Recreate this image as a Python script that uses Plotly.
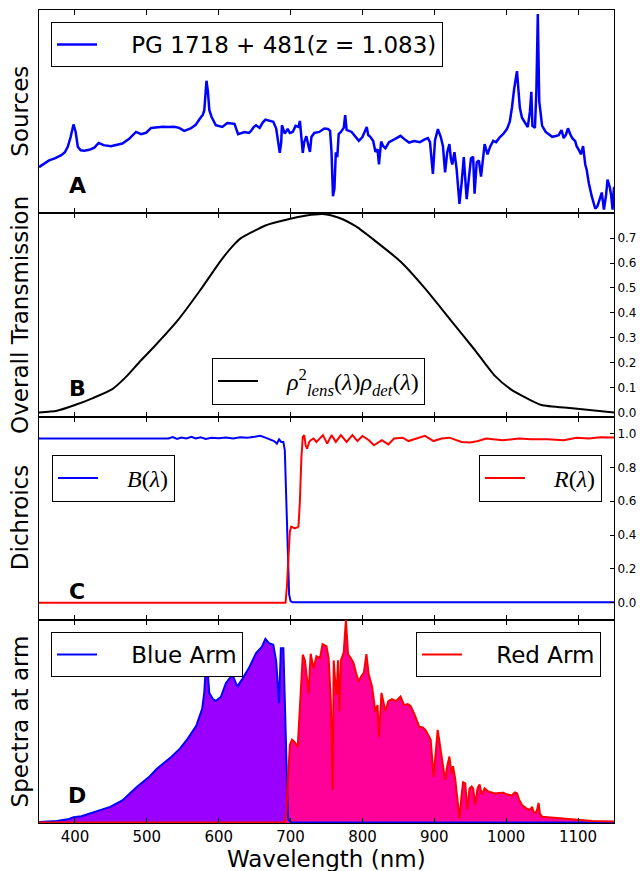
import plotly.graph_objects as go
from plotly.subplots import make_subplots

# ---------------- data ----------------
# Panel A: source spectrum (arbitrary flux units, 0-100)
src_wl = [350, 357, 364, 372, 381, 386, 390, 394, 398, 401, 404, 408, 413, 420, 427, 433, 440, 450, 458, 466,
          475, 485, 492, 499, 506, 514, 522, 530, 538, 545, 552, 561, 568, 573, 578, 580, 582, 583, 585, 587,
          590, 596, 605, 612, 618, 622, 627, 636, 642, 645, 649, 652, 657, 661, 665, 670, 676, 680, 683, 685,
          687, 688, 692, 696, 699, 703, 707, 711, 713, 715, 717, 719, 722, 725, 727, 729, 733, 740, 747, 752,
          755, 757, 759, 761, 763, 765, 767, 770, 774, 776, 778, 785, 790, 795, 800, 806, 808, 811, 815, 818,
          821, 823, 826, 829, 832, 837, 845, 853, 860, 865, 872, 880, 886, 891, 894, 898, 901, 905, 909, 912,
          915, 918, 921, 923, 925, 928, 931, 935, 938, 941, 945, 948, 951, 954, 956, 959, 962, 965, 968, 970,
          974, 978, 982, 986, 991, 996, 1001, 1005, 1008, 1011, 1015, 1017, 1019, 1022, 1026, 1030, 1033, 1035, 1036.5, 1040,
          1042, 1044, 1046, 1050, 1055, 1060, 1064, 1069, 1073, 1077, 1080, 1083, 1086, 1089, 1092, 1096, 1098, 1101, 1104, 1107,
          1110, 1112, 1115, 1119, 1122, 1124, 1127, 1130, 1133, 1136, 1139, 1141, 1144, 1146, 1148, 1150]
src_flux = [22.7, 24.5, 26.0, 27.0, 28.6, 30.0, 32.7, 37.5, 43.7, 40.0, 32.7, 31.0, 30.7, 31.2, 32.3, 34.6, 33.5, 33.0, 33.5, 34.3,
            36.5, 40.0, 38.9, 39.6, 42.0, 42.3, 42.5, 42.4, 42.6, 42.0, 40.5, 41.7, 43.5, 46.1, 48.5, 50.7, 60.0, 65.2, 60.0, 50.7,
            47.5, 43.3, 42.5, 44.4, 44.2, 44.0, 38.9, 40.0, 39.5, 40.5, 42.5, 43.3, 42.0, 44.5, 46.1, 45.5, 45.0, 41.7, 35.0, 29.7,
            35.0, 43.3, 39.2, 41.5, 39.5, 40.0, 43.0, 42.5, 45.4, 38.0, 29.7, 35.0, 37.9, 33.0, 30.2, 37.5, 39.5, 40.0, 41.7, 41.5,
            40.5, 30.0, 8.4, 12.0, 30.0, 27.6, 39.0, 40.0, 42.0, 48.3, 41.0, 40.0, 38.0, 35.6, 37.5, 42.5, 38.5, 37.6, 35.5, 30.2,
            31.5, 24.0, 35.3, 33.0, 32.0, 35.0, 36.5, 38.1, 36.0, 34.8, 35.5, 35.0, 36.2, 37.0, 35.0, 19.4, 36.0, 41.4, 37.5, 33.0,
            20.1, 30.0, 34.0, 27.0, 24.0, 30.0, 22.0, 4.6, 15.0, 27.6, 6.9, 19.0, 27.0, 27.8, 9.6, 25.0, 26.0, 18.0, 30.0, 34.0,
            29.0, 33.0, 35.6, 35.0, 37.4, 39.0, 41.4, 45.0, 51.9, 61.0, 69.9, 60.0, 51.9, 47.0, 44.5, 42.4, 50.0, 59.7, 43.0, 42.0,
            60.0, 98.0, 55.0, 43.0, 40.0, 38.5, 37.6, 38.0, 38.4, 40.9, 37.0, 38.5, 41.8, 39.0, 36.9, 35.5, 33.0, 31.2, 29.0, 33.0,
            24.0, 21.4, 14.8, 8.4, 4.0, 2.2, 3.5, 7.0, 10.2, 1.8, 9.0, 16.6, 13.0, 9.0, 1.8, 13.0]

# Panel B: overall transmission
trans_wl = [350, 375, 400, 425, 452, 470, 489, 512, 543, 574, 603, 620, 631, 648, 665, 694, 722, 745, 768, 791,
            819, 853, 887, 921, 955, 984, 1006, 1029, 1049, 1092, 1150]
trans_val = [0.000, 0.007, 0.030, 0.058, 0.094, 0.140, 0.200, 0.270, 0.370, 0.490, 0.610, 0.670, 0.700, 0.727, 0.751,
             0.774, 0.791, 0.797, 0.781, 0.747, 0.686, 0.606, 0.498, 0.377, 0.256, 0.148, 0.094, 0.057, 0.030, 0.017, 0.000]

# Panel C: dichroics
blue_dich_wl = [350, 530, 536, 542, 548, 555, 562, 568, 575, 582, 590, 600, 610, 620, 630, 640, 650, 658, 665, 672,
                677, 681, 684, 687, 690, 692, 694, 696, 698, 700, 703, 1150]
blue_dich = [0.97, 0.97, 0.978, 0.968, 0.976, 0.97, 0.98, 0.97, 0.977, 0.968, 0.975, 0.972, 0.976, 0.97, 0.978, 0.975,
             0.98, 0.986, 0.975, 0.965, 0.955, 0.94, 0.965, 0.95, 0.95, 0.9, 0.6, 0.25, 0.05, 0.01, 0.003, 0.003]
red_dich_wl = [350, 693, 695, 697, 699, 701, 706, 711, 713, 715, 717, 719, 721, 723, 726, 728, 732, 736, 740, 745,
               751, 757, 763, 770, 778, 786, 793, 800, 809, 816, 827, 836, 844, 856, 864, 876, 887, 899, 910, 921,
               938, 950, 961, 972, 995, 1018, 1035, 1058, 1080, 1098, 1115, 1131, 1150]
red_dich = [0.0, 0.0, 0.1, 0.3, 0.42, 0.45, 0.44, 0.45, 0.6, 0.85, 0.98, 0.99, 0.93, 0.91, 0.95, 0.96, 0.97, 0.95, 0.97, 0.99,
            0.94, 0.99, 0.95, 0.99, 0.95, 0.99, 0.955, 0.985, 0.96, 0.93, 0.96, 0.935, 0.97, 0.975, 0.955, 0.97, 0.986, 0.955, 0.97, 0.975,
            0.95, 0.947, 0.955, 0.97, 0.96, 0.97, 0.965, 0.965, 0.96, 0.975, 0.97, 0.978, 0.976]

# Panel D: spectra at each arm (arbitrary units, 0-100)
blue_arm_wl = [350, 375, 390, 398, 409, 420, 432, 449, 466, 486, 503, 514, 534, 546, 557, 569, 577, 580, 583, 585,
               587, 592, 596, 603, 610, 619, 626, 633, 642, 652, 660, 665, 670, 676, 680, 684, 686.5, 690, 692.5, 695,
               696.5, 700, 710, 1150]
blue_arm = [0.5, 1.0, 1.8, 2.8, 3.3, 4.5, 6.2, 7.9, 11.1, 17.7, 22.6, 26.7, 32.5, 36.6, 41.5, 48.0, 56.2, 64.4, 82.0, 74.0,
            63.9, 61.0, 60.1, 62.0, 68.8, 72.9, 67.1, 71.0, 76.2, 83.6, 86.6, 90.6, 88.5, 87.7, 79.5, 59.0, 86.0, 86.0, 50.0, 20.0,
            2.0, 0.3, 0.2, 0.2]
red_arm_wl = [350, 692, 694, 697, 699, 702, 705, 710, 714, 717, 720, 722, 725, 728, 732, 736, 741, 744.5, 750, 753,
              756, 758.6, 760, 762, 764, 766, 768, 770, 774, 777, 780, 784, 787.7, 791, 794.7, 798, 802, 805.5, 808.8, 813.4,
              818, 821, 823, 826.5, 829, 832, 836, 841, 847, 853, 858, 863, 867, 873, 879, 884, 888, 892, 895, 899,
              902, 904.7, 908, 911, 915, 918, 921, 924, 926, 929, 932, 935, 938, 940, 943, 946, 949, 952, 954, 957,
              960, 963, 966, 970, 975, 980, 984, 990, 996, 1002, 1008, 1012, 1015, 1018, 1022, 1028, 1033.5, 1036, 1038, 1041,
              1043, 1045, 1047, 1050, 1068, 1085, 1101.5, 1120, 1150]
red_arm = [0.3, 0.3, 5.0, 30.0, 38.4, 41.0, 40.0, 37.6, 61.4, 82.8, 80.0, 72.0, 63.9, 83.3, 76.0, 82.0, 81.1, 88.0, 86.9, 81.0,
           60.0, 16.3, 80.0, 70.0, 63.0, 80.0, 55.0, 80.0, 84.0, 100.0, 83.0, 81.0, 78.7, 74.0, 69.6, 72.0, 74.0, 83.1, 73.0, 67.1,
           54.8, 58.0, 42.5, 64.0, 60.0, 55.0, 60.0, 61.0, 60.0, 62.2, 58.0, 58.5, 57.6, 53.0, 47.4, 47.0, 45.6, 43.0, 40.9, 22.8,
           35.0, 45.8, 38.0, 30.0, 21.2, 28.0, 32.7, 24.0, 28.0, 22.0, 12.0, 2.3, 14.0, 20.0, 19.5, 6.7, 17.0, 18.0, 17.0, 9.0,
           17.0, 19.0, 14.0, 17.0, 15.5, 15.0, 14.5, 14.8, 14.9, 14.0, 13.5, 15.0, 14.6, 11.5, 8.9, 7.2, 6.4, 8.0, 5.5, 5.0,
           6.5, 9.9, 4.5, 3.1, 2.6, 2.2, 1.8, 1.0, 0.7]

x_ticks = [400, 500, 600, 700, 800, 900, 1000, 1100]
trans_ticks = [0.0, 0.1, 0.2, 0.3, 0.4, 0.5, 0.6, 0.7]
dich_ticks = [0.0, 0.2, 0.4, 0.6, 0.8, 1.0]

panel_labels = ["Sources", "Overall Transmission", "Dichroics", "Spectra at arm"]
panel_letters = ["A", "B", "C", "D"]

# ---------------- figure ----------------
FONT = "DejaVu Sans"
SERIF = "Liberation Serif"
PAD = "\u00a0" * 4
fig = make_subplots(rows=4, cols=1, shared_xaxes=True, vertical_spacing=0)

fig.add_trace(go.Scatter(x=src_wl, y=src_flux, mode="lines", line=dict(color="#0000ff", width=2.5),
                         name=PAD + "PG 1718 + 481(z = 1.083)", legend="legend"), row=1, col=1)

fig.add_trace(go.Scatter(x=trans_wl, y=trans_val, mode="lines", line=dict(color="black", width=2, shape="spline", smoothing=0.6),
                         name=PAD + "<i>ρ</i><sup>2</sup><sub><i>lens</i></sub>(<i>λ</i>)<i>ρ</i><sub><i>det</i></sub>(<i>λ</i>)",
                         legend="legend2"), row=2, col=1)

fig.add_trace(go.Scatter(x=blue_dich_wl, y=blue_dich, mode="lines", line=dict(color="#0000ff", width=2),
                         name=PAD + "<i>B</i>(<i>λ</i>)", legend="legend3"), row=3, col=1)
fig.add_trace(go.Scatter(x=red_dich_wl, y=red_dich, mode="lines", line=dict(color="#ff0000", width=2),
                         name=PAD + "<i>R</i>(<i>λ</i>)", legend="legend4"), row=3, col=1)

fig.add_trace(go.Scatter(x=blue_arm_wl, y=blue_arm, mode="lines", fill="tozeroy", fillcolor="#9900ff",
                         line=dict(color="#9900ff", width=0), showlegend=False, hoverinfo="skip"), row=4, col=1)
fig.add_trace(go.Scatter(x=red_arm_wl, y=red_arm, mode="lines", fill="tozeroy", fillcolor="#ff0099",
                         line=dict(color="#ff0099", width=0), showlegend=False, hoverinfo="skip"), row=4, col=1)
fig.add_trace(go.Scatter(x=blue_arm_wl, y=blue_arm, mode="lines", line=dict(color="#0000ff", width=2),
                         name=PAD + "Blue Arm", legend="legend5"), row=4, col=1)
fig.add_trace(go.Scatter(x=red_arm_wl, y=red_arm, mode="lines", line=dict(color="#ff0000", width=2),
                         name=PAD + "Red Arm", legend="legend6"), row=4, col=1)

L, R, T, B = 39, 26, 10, 48
W, H = 640, 871
PW, PH = W - L - R, H - T - B


def px_x(px):
    return (px - L) / PW


def px_y(py):
    return (H - B - py) / PH


def leg(x, y, xanchor, family=FONT, size=23, iw=40):
    return dict(x=x, y=y, xanchor=xanchor, yanchor="top", bgcolor="white", bordercolor="black",
                borderwidth=1, font=dict(family=family, size=size, color="black"), itemwidth=iw,
                itemclick=False, itemdoubleclick=False)


fig.update_layout(
    width=W, height=H, margin=dict(l=L, r=R, t=T, b=B),
    paper_bgcolor="white", plot_bgcolor="white",
    font=dict(family=FONT, color="black"),
    legend=leg(px_x(51), px_y(22), "left"),
    legend2=leg(px_x(212), px_y(358), "left", family=SERIF, size=24),
    legend3=leg(px_x(52), px_y(455), "left", family=SERIF, size=24),
    legend4=leg(px_x(602), px_y(455), "right", family=SERIF, size=24),
    legend5=leg(px_x(51), px_y(632), "left"),
    legend6=leg(px_x(601), px_y(632), "right"),
)

for i in range(1, 5):
    fig.update_xaxes(range=[350, 1150], tickvals=x_ticks, ticks="inside", ticklen=5, tickcolor="black",
                     showline=True, linecolor="black", linewidth=1, mirror="ticks", showgrid=False, zeroline=False,
                     showticklabels=(i == 4), tickfont=dict(family=FONT, size=15, color="black"), row=i, col=1)

fig.update_yaxes(range=[0, 100], showticklabels=False, ticks="", showline=True, linecolor="black",
                 mirror=True, showgrid=False, zeroline=False, row=1, col=1)
fig.update_yaxes(range=[-0.016, 0.80], side="right", tickvals=trans_ticks, tickformat=".1f", ticks="inside",
                 ticklen=4, tickcolor="black", showline=True, linecolor="black", mirror=True, showgrid=False,
                 zeroline=False, automargin=False, tickfont=dict(family=FONT, size=12, color="black"), row=2, col=1)
fig.update_yaxes(range=[-0.1, 1.1], side="right", tickvals=dich_ticks, tickformat=".1f", ticks="inside",
                 ticklen=4, tickcolor="black", showline=True, linecolor="black", mirror=True, showgrid=False,
                 zeroline=False, automargin=False, tickfont=dict(family=FONT, size=12, color="black"), row=3, col=1)
fig.update_yaxes(range=[0, 100], showticklabels=False, ticks="", showline=True, linecolor="black",
                 mirror=True, showgrid=False, zeroline=False, row=4, col=1)

# panel boundaries in pixels
bounds = [T + k * PH / 4 for k in range(5)]
for k in range(4):
    top, bot = bounds[k], bounds[k + 1]
    fig.add_annotation(text=panel_labels[k], xref="paper", yref="paper", x=px_x(20), y=px_y((top + bot) / 2),
                       xanchor="center", yanchor="middle", textangle=-90, showarrow=False,
                       font=dict(family=FONT, size=23, color="black"))
    fig.add_annotation(text="<b>%s</b>" % panel_letters[k], xref="paper", yref="paper", x=px_x(77),
                       y=px_y(bot - 28), xanchor="center", yanchor="middle", showarrow=False,
                       font=dict(family=FONT, size=22, color="black"))

fig.add_annotation(text="Wavelength (nm)", xref="paper", yref="paper", x=0.5, y=px_y(859),
                   xanchor="center", yanchor="middle", showarrow=False,
                   font=dict(family=FONT, size=23, color="black"))

fig.write_html("out.html")
